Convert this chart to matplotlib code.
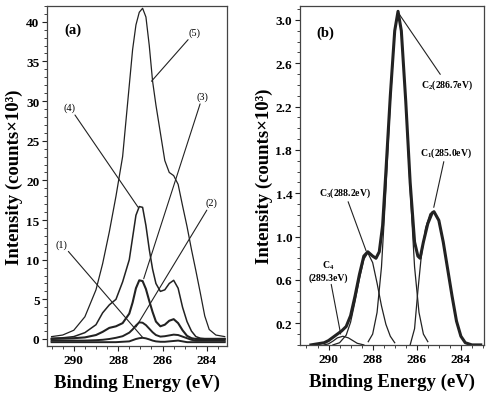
import numpy as np
import matplotlib
matplotlib.use("Agg")
import matplotlib.pyplot as plt
from matplotlib.ticker import MultipleLocator

plt.rcParams['font.family'] = ['Liberation Serif', 'DejaVu Serif']
plt.rcParams['mathtext.fontset'] = 'custom'
plt.rcParams['mathtext.rm'] = 'Liberation Serif:bold'
plt.rcParams['mathtext.default'] = 'rm'

# ---- panel (a): C1s spectra of five samples ----
ea = [291.0, 290.5, 290.0, 289.5, 289.0, 288.7, 288.4, 288.1, 287.8, 287.5,
      287.35, 287.2, 287.05, 286.9, 286.75, 286.6, 286.45, 286.3, 286.1, 285.9,
      285.7, 285.5, 285.3, 285.1, 284.9, 284.7, 284.5, 284.3, 284.1, 283.9,
      283.6, 283.2]
s5 = [0.3, 0.5, 1.1, 2.8, 6.2, 9.5, 13.5, 18.0, 23.0, 32.0,
      36.5, 39.6, 41.2, 41.7, 40.6, 37.0, 32.5, 29.5, 26.0, 22.5,
      21.0, 20.6, 19.5, 16.8, 14.2, 11.3, 8.6, 5.8, 2.9, 1.2,
      0.5, 0.3]
s4 = [0.1, 0.15, 0.3, 0.8, 1.8, 3.3, 4.3, 5.0, 7.2, 10.0,
      12.8, 15.6, 16.7, 16.6, 14.3, 11.3, 8.8, 7.0, 6.0, 6.2,
      7.0, 7.4, 6.4, 4.0, 2.2, 1.0, 0.3, 0.1, 0.05, 0.05,
      0.05, 0.05]
s3 = [0.0, 0.05, 0.1, 0.2, 0.5, 0.9, 1.4, 1.6, 2.0, 3.2,
      4.6, 6.4, 7.4, 7.3, 6.3, 4.8, 3.4, 2.2, 1.6, 1.8,
      2.3, 2.5, 2.0, 1.1, 0.4, 0.1, 0.0, 0.0, 0.0, 0.0,
      0.0, 0.0]
s2 = [-0.2, -0.2, -0.2, -0.2, -0.15, -0.1, 0.0, 0.15, 0.35, 0.8,
      1.2, 1.7, 2.1, 2.05, 1.75, 1.3, 0.85, 0.5, 0.3, 0.35,
      0.45, 0.55, 0.5, 0.3, 0.1, -0.1, -0.2, -0.2, -0.2, -0.2,
      -0.2, -0.2]
s1 = [-0.4, -0.4, -0.4, -0.4, -0.4, -0.4, -0.4, -0.4, -0.35, -0.3,
      -0.15, 0.0, 0.1, 0.15, 0.08, -0.05, -0.2, -0.3, -0.35, -0.35,
      -0.3, -0.25, -0.2, -0.3, -0.4, -0.4, -0.4, -0.4, -0.4, -0.4,
      -0.4, -0.4]

# ---- panel (b): fitted components ----
c2_x = [288.2, 288.0, 287.8, 287.6, 287.4, 287.2, 287.0, 286.85, 286.7, 286.5,
        286.3, 286.1, 285.9, 285.7, 285.5]
c2_y = [0.03, 0.1, 0.3, 0.72, 1.43, 2.24, 2.9, 3.08, 2.9, 2.24,
        1.43, 0.72, 0.3, 0.1, 0.03]
c3_x = [289.8, 289.5, 289.2, 289.0, 288.8, 288.6, 288.4, 288.22, 288.0, 287.8,
        287.6, 287.4, 287.2, 287.0]
c3_y = [0.0, 0.02, 0.09, 0.21, 0.4, 0.61, 0.79, 0.85, 0.76, 0.57,
        0.36, 0.19, 0.08, 0.02]
c4_x = [290.2, 290.0, 289.8, 289.6, 289.35, 289.1, 288.9, 288.7, 288.4]
c4_y = [0.0, 0.01, 0.035, 0.065, 0.08, 0.065, 0.04, 0.015, 0.0]
c1_x = [286.3, 286.1, 285.95, 285.8, 285.6, 285.4, 285.22, 285.0, 284.8, 284.6,
        284.4, 284.2, 284.0, 283.8, 283.6]
c1_y = [0.0, 0.15, 0.5, 0.81, 1.08, 1.21, 1.23, 1.15, 0.95, 0.7,
        0.45, 0.22, 0.08, 0.02, 0.0]
env_x = [290.8, 290.5, 290.2, 290.0, 289.8, 289.6, 289.4, 289.2, 289.0, 288.8,
         288.6, 288.4, 288.22, 288.0, 287.85, 287.7, 287.55, 287.4, 287.2, 287.0,
         286.85, 286.7, 286.5, 286.3, 286.1, 285.95, 285.85, 285.7, 285.5, 285.3,
         285.22, 285.0, 284.8, 284.6, 284.4, 284.2, 284.0, 283.8, 283.5, 283.1]
env_y = [0.0, 0.01, 0.02, 0.04, 0.07, 0.1, 0.13, 0.17, 0.27, 0.45,
         0.65, 0.82, 0.86, 0.82, 0.8, 0.86, 1.1, 1.6, 2.3, 2.9,
         3.08, 2.9, 2.25, 1.5, 0.95, 0.82, 0.8, 0.95, 1.12, 1.22,
         1.23, 1.15, 0.95, 0.7, 0.45, 0.22, 0.08, 0.02, 0.0, 0.0]

col = '#222222'
fig = plt.figure(figsize=(4.86, 4.06), dpi=100)
ax1 = fig.add_axes([0.097, 0.145, 0.37, 0.838])
ax2 = fig.add_axes([0.617, 0.148, 0.379, 0.835])

# panel a
for s, w in [(s5, 0.9), (s4, 1.1), (s3, 1.5), (s2, 1.4), (s1, 1.4)]:
    ax1.plot(ea, s, color=col, lw=w)
ax1.set_xlim(291.2, 283.1)
ax1.set_ylim(-0.9, 42)
ax1.xaxis.set_major_locator(MultipleLocator(2))
ax1.xaxis.set_minor_locator(MultipleLocator(0.5))
ax1.yaxis.set_major_locator(MultipleLocator(5))
ax1.yaxis.set_minor_locator(MultipleLocator(1))

lbl = dict(fontsize=7.5, ha='center', va='center')
arr = dict(arrowstyle='-', color=col, lw=0.8, shrinkA=0, shrinkB=0)
ax1.annotate('(5)', xy=(286.5, 32.5), xytext=(284.55, 38.7), arrowprops=arr, **lbl)
ax1.annotate('(3)', xy=(286.85, 7.6), xytext=(284.2, 30.6), arrowprops=arr, **lbl)
ax1.annotate('(4)', xy=(287.1, 16.6), xytext=(290.18, 29.2), arrowprops=arr, **lbl)
ax1.annotate('(2)', xy=(287.2, 1.5), xytext=(283.8, 17.2), arrowprops=arr, **lbl)
ax1.annotate('(1)', xy=(286.9, 0.2), xytext=(290.54, 12.0), arrowprops=arr, **lbl)
ax1.text(290.05, 39.0, '(a)', fontsize=10.5, fontweight='bold', ha='center', va='center')

# panel b
ax2.plot(env_x, env_y, color=col, lw=2.2)
for cx, cy in [(c1_x, c1_y), (c2_x, c2_y), (c3_x, c3_y), (c4_x, c4_y)]:
    ax2.plot(cx, cy, color=col, lw=0.9)
ax2.set_xlim(291.3, 282.95)
ax2.set_ylim(0, 3.13)
ax2.xaxis.set_major_locator(MultipleLocator(2))
ax2.xaxis.set_minor_locator(MultipleLocator(0.5))
ax2.set_yticks([0.2, 0.6, 1.0, 1.4, 1.8, 2.2, 2.6, 3.0])
ax2.yaxis.set_minor_locator(MultipleLocator(0.1))

lbl2 = dict(fontsize=7, fontweight='bold', ha='center', va='center')
ax2.annotate('C$_2$(286.7eV)', xy=(286.85, 3.07), xytext=(284.64, 2.41), arrowprops=arr, **lbl2)
ax2.annotate('C$_1$(285.0eV)', xy=(285.23, 1.27), xytext=(284.68, 1.78), arrowprops=arr, **lbl2)
ax2.annotate('C$_3$(288.2eV)', xy=(288.3, 0.87), xytext=(289.27, 1.41), arrowprops=arr, **lbl2)
ax2.annotate('C$_4$\n(289.3eV)', xy=(289.45, 0.1), xytext=(290.0, 0.69), arrowprops=arr,
             linespacing=1.1, **lbl2)
ax2.text(290.14, 2.89, '(b)', fontsize=10.5, fontweight='bold', ha='center', va='center')

for ax in (ax1, ax2):
    ax.set_xticks([290, 288, 286, 284])
    ax.tick_params(which='major', direction='out', length=3.5, width=0.8, color=col,
                   labelsize=9.5, pad=2)
    ax.tick_params(which='minor', direction='out', length=2, width=0.6, color=col)
    for lab in ax.get_xticklabels() + ax.get_yticklabels():
        lab.set_fontweight('bold')
    for sp in ax.spines.values():
        sp.set_color('#444444')
        sp.set_linewidth(0.9)
    ax.set_xlabel('Binding Energy (eV)', fontsize=13.5, fontweight='bold', labelpad=6)
    ax.set_ylabel('Intensity (counts×10³)', fontsize=13.5, fontweight='bold', labelpad=2)

fig.savefig('out.png', dpi=100)
